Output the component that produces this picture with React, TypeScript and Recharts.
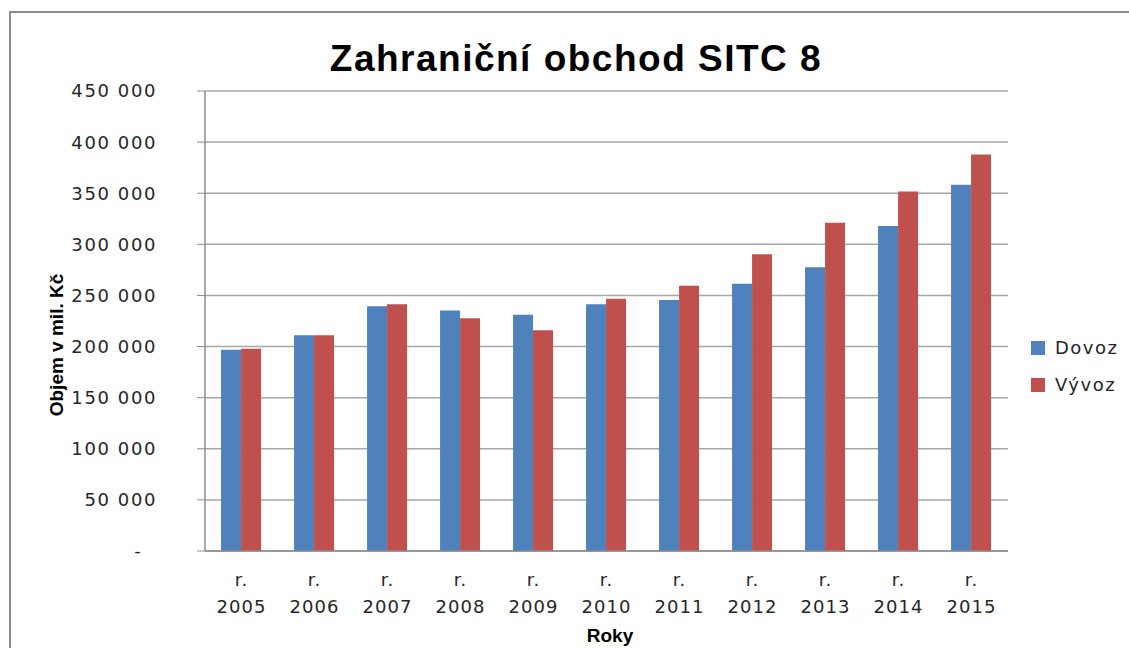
import React from "react";
import { BarChart, Bar, XAxis, YAxis, CartesianGrid } from "recharts";

const years = ["r. 2005", "r. 2006", "r. 2007", "r. 2008", "r. 2009", "r. 2010", "r. 2011", "r. 2012", "r. 2013", "r. 2014", "r. 2015"];
const dovoz = [196800, 211000, 239400, 235200, 231000, 241400, 245600, 261500, 277500, 317900, 358200];
const vyvoz = [197800, 211000, 241400, 227700, 216000, 246800, 259600, 290200, 321100, 351800, 387900];
const yTicks = [0, 50000, 100000, 150000, 200000, 250000, 300000, 350000, 400000, 450000];

const data = years.map((name, i) => ({ name, Dovoz: dovoz[i], Vývoz: vyvoz[i] }));

const BLUE = "#4F81BD";
const RED = "#C0504D";
const GRID = "#A6A6A6";
const TEXT = "#262626";
const tickFont = "'DejaVu Sans', sans-serif";
const boldFont = "'Liberation Sans', Arial, sans-serif";

// Excel accounting style: zero shown as a dash, space as thousands separator
const fmt = (v: number) => (v === 0 ? "-\u00a0\u00a0" : v.toLocaleString("en-US").replace(/,/g, " "));

const XTick = (props: any) => {
    const { x, y, payload } = props;
    const [pre, year] = String(payload.value).split(" ");
    return (
        <text x={x} y={y} textAnchor="middle" fill={TEXT} fontFamily={tickFont} fontSize={18} letterSpacing={1}>
            <tspan x={x} dy={35}>{pre}</tspan>
            <tspan x={x} dy={27}>{year}</tspan>
        </text>
    );
};

const LegendBox = () => (
    <div style={{ position: "absolute", left: 1031, top: 329, fontFamily: tickFont, fontSize: 18, letterSpacing: 1.5, color: TEXT }}>
        {[{ c: BLUE, t: "Dovoz" }, { c: RED, t: "Vývoz" }].map((it) => (
            <div key={it.t} style={{ display: "flex", alignItems: "center", height: 37 }}>
                <span style={{ width: 14, height: 14, background: it.c, display: "inline-block", marginRight: 10 }} />
                <span>{it.t}</span>
            </div>
        ))}
    </div>
);

export default function App() {
    return (
        <div style={{ position: "absolute", left: 0, top: 0, width: 1129, height: 648, overflow: "hidden", background: "#fff" }}>
            <div style={{ position: "absolute", left: 9, top: 11, width: 1300, height: 800, border: "2px solid #8C8C8C" }} />
            <div
                style={{
                    position: "absolute", left: 0, top: 40, width: 1152, textAlign: "center",
                    fontFamily: boldFont, fontWeight: 700, fontSize: 37, lineHeight: "37px", letterSpacing: 1.5, color: "#000"
                }}
            >
                Zahraniční obchod SITC 8
            </div>
            <div
                style={{
                    position: "absolute", left: -43, top: 333, width: 200, height: 24, lineHeight: "24px", textAlign: "center",
                    transform: "rotate(-90deg)", fontFamily: boldFont, fontWeight: 700, fontSize: 19, color: "#000"
                }}
            >
                Objem v mil. Kč
            </div>
            <div
                style={{
                    position: "absolute", left: 0, top: 624, width: 1220, textAlign: "center", lineHeight: "24px",
                    fontFamily: boldFont, fontWeight: 700, fontSize: 19, color: "#000"
                }}
            >
                Roky
            </div>
            <BarChart
                width={1129}
                height={648}
                data={data}
                margin={{ top: 91, right: 121, left: 0, bottom: 67 }}
                barGap={0}
                barCategoryGap="22%"
                style={{ position: "absolute", left: 0, top: 0 }}
            >
                <CartesianGrid vertical={false} stroke={GRID} strokeWidth={1.5} />
                <XAxis
                    dataKey="name"
                    height={30}
                    interval={0}
                    tickLine={false}
                    tickSize={0}
                    tickMargin={0}
                    axisLine={{ stroke: "#8C8C8C", strokeWidth: 1.5 }}
                    tick={<XTick />}
                />
                <YAxis
                    width={205}
                    domain={[0, 450000]}
                    ticks={yTicks}
                    interval={0}
                    tickFormatter={fmt}
                    tickSize={8}
                    tickMargin={40}
                    tickLine={{ stroke: "#8C8C8C" }}
                    axisLine={{ stroke: "#8C8C8C", strokeWidth: 1.5 }}
                    tick={{ fill: TEXT, fontSize: 18, fontFamily: tickFont, letterSpacing: 1.6 }}
                />
                <Bar dataKey="Dovoz" fill={BLUE} isAnimationActive={false} />
                <Bar dataKey="Vývoz" fill={RED} isAnimationActive={false} />
            </BarChart>
            <LegendBox />
        </div>
    );
}
